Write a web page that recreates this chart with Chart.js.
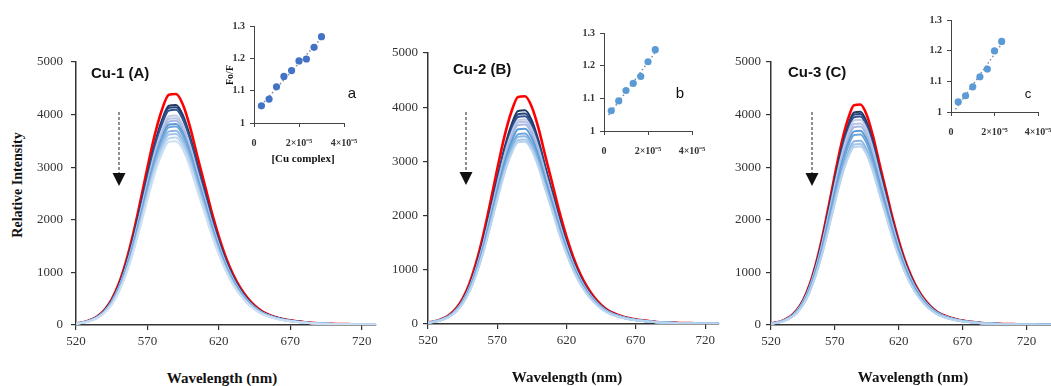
<!DOCTYPE html>
<html>
<head>
<meta charset="utf-8">
<script src="https://cdn.jsdelivr.net/npm/chart.js@4.4.1/dist/chart.umd.min.js"></script>
<style>
  html, body { margin: 0; padding: 0; background: #fff; overflow: hidden; }
  #wrap { position: relative; width: 1051px; height: 386px; overflow: hidden; background: #fff; }
  #wrap canvas { position: absolute; }
  .txt { position: absolute; white-space: nowrap; color: #111; transform: translate(-50%, -50%); }
  .serif { font-family: 'Liberation Serif', 'Times New Roman', serif; font-weight: bold; }
  .title { font-family: 'Liberation Sans', Arial, sans-serif; font-weight: bold; font-size: 15px; transform: translate(0, -50%); }
  .letter { font-family: 'Liberation Sans', Arial, sans-serif; font-size: 15px; }
  #arrows { position: absolute; left: 0; top: 0; pointer-events: none; }
</style>
</head>
<body>
<div id="wrap">
  <canvas id="specA"></canvas>
  <canvas id="specB"></canvas>
  <canvas id="specC"></canvas>
  <canvas id="insetA"></canvas>
  <canvas id="insetB"></canvas>
  <canvas id="insetC"></canvas>

  <div class="txt serif" style="left:18px; top:185px; font-size:14px; transform:translate(-50%,-50%) rotate(-90deg);">Relative Intensity</div>
  <div class="txt serif" style="left:222px; top:378px; font-size:15px;">Wavelength (nm)</div>
  <div class="txt serif" style="left:567px; top:377px; font-size:15px;">Wavelength (nm)</div>
  <div class="txt serif" style="left:913px; top:377px; font-size:15px;">Wavelength (nm)</div>

  <div class="txt title" style="left:91px; top:72px;">Cu-1 (A)</div>
  <div class="txt title" style="left:453px; top:68px;">Cu-2 (B)</div>
  <div class="txt title" style="left:788px; top:71px;">Cu-3 (C)</div>

  <div class="txt letter" style="left:352px; top:92px;">a</div>
  <div class="txt letter" style="left:680px; top:92px;">b</div>
  <div class="txt letter" style="left:1028px; top:93px; font-size:13px;">c</div>

  <div class="txt serif" style="left:229px; top:75px; font-size:10px; transform:translate(-50%,-50%) rotate(-90deg);">Fo/F</div>
  <div class="txt serif" style="left:303px; top:158px; font-size:11px;">[Cu complex]</div>

  <svg id="arrows" width="1051" height="386">
    <g stroke="#222" stroke-width="1" stroke-dasharray="3,2" fill="none">
      <line x1="119" y1="112" x2="119" y2="173"/>
      <line x1="466" y1="112" x2="466" y2="173"/>
      <line x1="812" y1="112" x2="812" y2="173"/>
    </g>
    <g fill="#111">
      <polygon points="112.5,173 125.5,173 119,186"/>
      <polygon points="459.5,172 472.5,172 466,185"/>
      <polygon points="805.5,173 818.5,173 812,186"/>
    </g>
  </svg>
</div>

<script>
// emission spectra: wavelength grid (nm) and the normalised band
const wavelengths = [520, 525, 530, 535, 540, 545, 550, 555, 560, 565, 570, 575, 580, 585, 590,
  595, 600, 605, 610, 615, 620, 625, 630, 635, 640, 645, 650, 655, 660, 665, 670,
  675, 680, 685, 690, 695, 700, 705, 710, 715, 720, 725, 730, 735, 740];
const bandShape = [0.007, 0.012, 0.022, 0.038, 0.066, 0.111, 0.179, 0.274, 0.393, 0.533, 0.680,
  0.818, 0.927, 0.995, 0.998, 0.950, 0.852, 0.728, 0.609, 0.488, 0.382, 0.291, 0.218,
  0.161, 0.117, 0.084, 0.060, 0.045, 0.034, 0.026, 0.020, 0.016, 0.012, 0.009, 0.007,
  0.006, 0.005, 0.004, 0.004, 0.003, 0.003, 0.003, 0.002, 0.002, 0.002];

// peak intensity of every curve (free dye first, then increasing Cu complex)
const peaksA = [4400, 4190, 4150, 4100, 3990, 3940, 3890, 3830, 3780, 3700, 3640, 3570, 3500];
const peaksB = [4210, 3950, 3890, 3840, 3780, 3740, 3690, 3610, 3520, 3470, 3410, 3370];
const peaksC = [4200, 4060, 4020, 3970, 3910, 3840, 3780, 3700, 3630, 3510, 3450, 3400];

const xTicks = [520, 570, 620, 670, 720];
const yTicks = [0, 1000, 2000, 3000, 4000, 5000];

// Stern-Volmer insets, concentration in units of 1e-5 M
const concA = [0.33, 0.67, 1.0, 1.33, 1.67, 2.0, 2.33, 2.67, 3.0];
const ratioA = [1.053, 1.074, 1.112, 1.144, 1.162, 1.192, 1.198, 1.234, 1.267];
const concB = [0.33, 0.67, 1.0, 1.33, 1.67, 2.0, 2.33];
const ratioB = [1.062, 1.092, 1.124, 1.146, 1.167, 1.212, 1.249];
const concC = [0.33, 0.67, 1.0, 1.33, 1.67, 2.0, 2.33];
const ratioC = [1.033, 1.053, 1.082, 1.115, 1.140, 1.199, 1.230];
const insetXTicks = [0, 2, 4];
const insetXLabels = ['0', '2\u00d710\u207b\u2075', '4\u00d710\u207b\u2075'];
const insetYTicks = [1, 1.1, 1.2, 1.3];

const lineColors = ['#ff0000', '#1f3864', '#26437a', '#2f5597', '#c3cbe2', '#b4c3e6', '#a7b9e2',
  '#5b9bd5', '#6fa6dc', '#8bb7e3', '#a4c6ea', '#bad5ef', '#cde0f3'];

Chart.defaults.font.family = "'Liberation Serif', 'Times New Roman', serif";
Chart.defaults.color = '#333';
Chart.defaults.animation = false;

// canvas sized so the plot area lands on the given page box
function placeCanvas(id, area, gutter) {
  const c = document.getElementById(id);
  c.width = gutter.left + (area.right - area.left) + gutter.right;
  c.height = gutter.top + (area.bottom - area.top) + gutter.bottom;
  c.style.left = (area.left - gutter.left) + 'px';
  c.style.top = (area.top - gutter.top) + 'px';
  return c;
}

function spectraChart(id, peaks, xMax, area, yPad) {
  const yW = 44, xH = 30;
  const gutter = { left: yW + 6, top: 22, right: 10, bottom: xH + 4 };
  const ctx = placeCanvas(id, area, gutter);
  const datasets = peaks.map((p, i) => ({
    data: wavelengths.map((w, j) => ({ x: w, y: bandShape[j] * p })),
    borderColor: lineColors[i],
    borderWidth: i === 0 ? 2.6 : 2,
    pointRadius: 0,
    cubicInterpolationMode: 'monotone',
    order: peaks.length - i
  }));
  new Chart(ctx, {
    type: 'line',
    data: { datasets: datasets },
    options: {
      responsive: false,
      devicePixelRatio: 1,
      layout: { padding: { left: 6, top: 22, right: 10, bottom: 4 } },
      plugins: { legend: { display: false }, tooltip: { enabled: false } },
      scales: {
        x: {
          type: 'linear', min: 520, max: xMax,
          afterBuildTicks: s => { s.ticks = xTicks.map(v => ({ value: v })); },
          afterFit: s => { s.height = xH; },
          ticks: { font: { size: 13 }, color: '#333', padding: 4, maxRotation: 0, callback: v => String(v) },
          grid: { drawOnChartArea: false, tickLength: 5, color: '#333', lineWidth: 1.2 },
          border: { color: '#333', width: 1.5 }
        },
        y: {
          min: 0, max: 5000,
          afterBuildTicks: s => { s.ticks = yTicks.map(v => ({ value: v })); },
          afterFit: s => { s.width = yW; },
          ticks: { font: { size: 13 }, color: '#333', padding: yPad, callback: v => String(v) },
          grid: { drawOnChartArea: false, tickLength: 5, color: '#333', lineWidth: 1.2 },
          border: { color: '#333', width: 1.5 }
        }
      }
    }
  });
}

function trend(xs, ys) {
  const n = xs.length;
  const mx = xs.reduce((a, b) => a + b, 0) / n;
  const my = ys.reduce((a, b) => a + b, 0) / n;
  let sxy = 0, sxx = 0;
  xs.forEach((x, i) => { sxy += (x - mx) * (ys[i] - my); sxx += (x - mx) * (x - mx); });
  const k = sxy / sxx, b = my - k * mx;
  const x0 = xs[0] - 0.12, x1 = xs[n - 1] + 0.1;
  return [{ x: x0, y: k * x0 + b }, { x: x1, y: k * x1 + b }];
}

function insetChart(id, conc, ratio, area, dotColor) {
  const yW = 22, xH = 26;
  const gutter = { left: yW + 2, top: 16, right: 32, bottom: xH + 2 };
  const ctx = placeCanvas(id, area, gutter);
  new Chart(ctx, {
    type: 'scatter',
    data: {
      datasets: [
        {
          data: conc.map((c, i) => ({ x: c, y: ratio[i] })),
          backgroundColor: dotColor, borderColor: dotColor,
          pointRadius: 3.6, borderWidth: 0
        },
        {
          data: trend(conc, ratio), showLine: true,
          borderColor: '#7d8ca3', borderWidth: 1.5, borderDash: [1.5, 2.5],
          pointRadius: 0
        }
      ]
    },
    options: {
      responsive: false,
      devicePixelRatio: 1,
      layout: { padding: { left: 2, top: 16, right: 32, bottom: 2 } },
      plugins: { legend: { display: false }, tooltip: { enabled: false } },
      scales: {
        x: {
          type: 'linear', min: 0, max: 4,
          afterBuildTicks: s => { s.ticks = insetXTicks.map(v => ({ value: v })); },
          afterFit: s => { s.height = xH; },
          ticks: {
            font: { size: 10, weight: 'bold' }, color: '#333', padding: 10, maxRotation: 0,
            callback: (v, i) => insetXLabels[i]
          },
          grid: { drawOnChartArea: false, tickLength: 4, color: '#444', lineWidth: 1 },
          border: { color: '#444', width: 1 }
        },
        y: {
          min: 1, max: 1.3,
          afterBuildTicks: s => { s.ticks = insetYTicks.map(v => ({ value: v })); },
          afterFit: s => { s.width = yW; },
          ticks: {
            font: { size: 10, weight: 'bold' }, color: '#333', padding: 5,
            callback: v => (v === 1 ? '1' : v.toFixed(1))
          },
          grid: { drawOnChartArea: false, tickLength: 4, color: '#444', lineWidth: 1 },
          border: { color: '#444', width: 1 }
        }
      }
    }
  });
}

spectraChart('specA', peaksA, 730, { left: 76, top: 62, right: 376, bottom: 325 }, 8);
spectraChart('specB', peaksB, 730, { left: 428, top: 53, right: 719, bottom: 324 }, 5);
spectraChart('specC', peaksC, 740, { left: 771, top: 62, right: 1052, bottom: 325 }, 5);

insetChart('insetA', concA, ratioA, { left: 254, top: 26, right: 344, bottom: 123 }, '#4472c4');
insetChart('insetB', concB, ratioB, { left: 604, top: 33, right: 692, bottom: 131 }, '#5b9bd5');
insetChart('insetC', concC, ratioC, { left: 951, top: 20, right: 1038, bottom: 112 }, '#5b9bd5');
</script>
</body>
</html>
